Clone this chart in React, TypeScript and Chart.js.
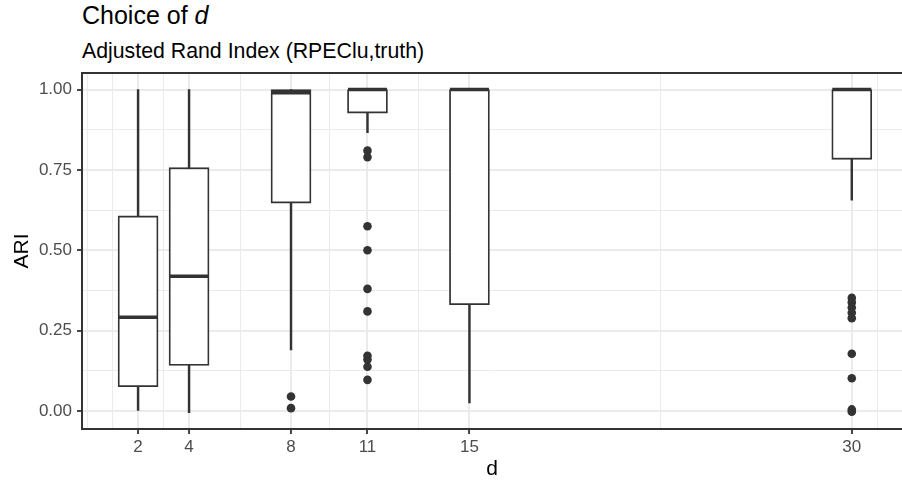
import React, { useEffect, useRef } from 'react';
import { Chart, registerables } from 'chart.js';

Chart.register(...registerables);

// ---- data ----
const categories = [2, 4, 8, 11, 15, 30];
const lowerWhisker = [0.002, -0.005, 0.19, 0.866, 0.025, 0.656];
const q1 = [0.076, 0.142, 0.647, 0.927, 0.331, 0.783];
const medians = [0.292, 0.419, 0.99, 1.0, 1.0, 1.0];
const q3 = [0.607, 0.757, 1.0, 1.0, 1.0, 1.0];
const upperWhisker = [1.0, 1.0, 1.0, 1.0, 1.0, 1.0];
const outlierValues = [
  [],
  [],
  [0.045, 0.009],
  [0.81, 0.79, 0.575, 0.5, 0.38, 0.31, 0.172, 0.16, 0.138, 0.097],
  [],
  [0.352, 0.338, 0.322, 0.306, 0.289, 0.178, 0.102, 0.005, -0.002],
];

// ---- axes ----
const xBreaks = [2, 4, 8, 11, 15, 30];
const xMinorBreaks = [0, 1, 3, 6, 9.5, 13, 22.5, 31];
const yBreaks = [0, 0.25, 0.5, 0.75, 1];
const yLabels = ['0.00', '0.25', '0.50', '0.75', '1.00'];
const yMinorBreaks = [0.125, 0.375, 0.625, 0.875];

const titleText = 'Choice of ';
const titleItalic = 'd';
const subtitleText = 'Adjusted Rand Index (RPEClu,truth)';
const xTitle = 'd';
const yTitle = 'ARI';

const FONT = '"Liberation Sans", Arial, Helvetica, sans-serif';
const INK = '#333333';
const GRID = '#EBEBEB';

const topBorder = {
  id: 'topBorder',
  afterDraw(chart: any) {
    const { ctx, chartArea } = chart;
    ctx.save();
    ctx.strokeStyle = INK;
    ctx.lineWidth = 2;
    ctx.beginPath();
    ctx.moveTo(chartArea.left - 1, chartArea.top);
    ctx.lineTo(chartArea.right, chartArea.top);
    ctx.stroke();
    ctx.restore();
  },
};

export default function App() {
  const ref = useRef<HTMLCanvasElement | null>(null);

  useEffect(() => {
    document.body.style.margin = '0';
    if (!ref.current) return;

    const whiskerData = categories.map((x, i) => ({ x, y: [lowerWhisker[i], upperWhisker[i]] }));
    const boxData = categories.map((x, i) => ({ x, y: [q1[i], q3[i]] }));
    const medianData = categories.map((x, i) => ({ x, y: medians[i] }));
    const outlierData: { x: number; y: number }[] = [];
    categories.forEach((x, i) => outlierValues[i].forEach((y) => outlierData.push({ x, y })));

    const isMajorX = (v: number) => xBreaks.includes(v);
    const isMajorY = (v: number) => yBreaks.some((b) => Math.abs(b - v) < 1e-9);

    const chart = new Chart(ref.current, {
      type: 'bar',
      data: {
        datasets: [
          {
            type: 'scatter',
            data: outlierData,
            pointStyle: 'circle',
            pointRadius: 4.3,
            backgroundColor: INK,
            borderWidth: 0,
            order: 0,
          } as any,
          {
            type: 'scatter',
            data: medianData,
            pointStyle: 'line',
            pointRadius: 19.5,
            borderColor: INK,
            borderWidth: 3.5,
            order: 1,
          } as any,
          {
            type: 'bar',
            data: boxData,
            backgroundColor: '#FFFFFF',
            borderColor: INK,
            borderWidth: 1.8,
            borderSkipped: false,
            barThickness: 40,
            grouped: false,
            order: 2,
          } as any,
          {
            type: 'bar',
            data: whiskerData,
            backgroundColor: INK,
            borderWidth: 0,
            barThickness: 1.8,
            grouped: false,
            order: 3,
          } as any,
        ],
      },
      options: {
        responsive: false,
        animation: false,
        devicePixelRatio: 1,
        events: [],
        layout: { autoPadding: false, padding: { top: 73, left: 0, right: 0, bottom: 0 } },
        plugins: {
          legend: { display: false },
          tooltip: { enabled: false },
          title: { display: false },
        },
        scales: {
          x: {
            type: 'linear',
            min: -0.2,
            max: 31.97,
            offset: false,
            afterBuildTicks: (scale: any) => {
              scale.ticks = [...xBreaks, ...xMinorBreaks].sort((a, b) => a - b).map((v) => ({ value: v }));
            },
            afterFit: (scale: any) => {
              scale.height = 53;
            },
            ticks: {
              autoSkip: false,
              maxRotation: 0,
              padding: 3,
              color: '#4D4D4D',
              font: { family: FONT, size: 17 },
              callback: (v: any) => (isMajorX(Number(v)) ? String(v) : ''),
            },
            grid: {
              offset: false,
              drawTicks: true,
              tickLength: 5,
              color: (ctx: any) => GRID,
              lineWidth: (ctx: any) => (ctx.tick && isMajorX(ctx.tick.value) ? 2 : 1),
              tickColor: (ctx: any) => (ctx.tick && isMajorX(ctx.tick.value) ? INK : 'rgba(0,0,0,0)'),
              tickWidth: 1.8,
            },
            border: { display: true, color: INK, width: 2 },
            title: {
              display: true,
              text: xTitle,
              color: '#000000',
              font: { family: FONT, size: 21, lineHeight: 1 },
              padding: { top: 0, bottom: 2 },
            },
          },
          y: {
            type: 'linear',
            min: -0.0559,
            max: 1.0516,
            afterBuildTicks: (scale: any) => {
              scale.ticks = [...yBreaks, ...yMinorBreaks].sort((a, b) => a - b).map((v) => ({ value: v }));
            },
            afterFit: (scale: any) => {
              scale.width = 82;
            },
            ticks: {
              autoSkip: false,
              padding: 5,
              color: '#4D4D4D',
              font: { family: FONT, size: 17 },
              callback: (v: any) => {
                const idx = yBreaks.findIndex((b) => Math.abs(b - Number(v)) < 1e-9);
                return idx >= 0 ? yLabels[idx] : '';
              },
            },
            grid: {
              drawTicks: true,
              tickLength: 5,
              color: (ctx: any) => GRID,
              lineWidth: (ctx: any) => (ctx.tick && isMajorY(ctx.tick.value) ? 2 : 1),
              tickColor: (ctx: any) => (ctx.tick && isMajorY(ctx.tick.value) ? INK : 'rgba(0,0,0,0)'),
              tickWidth: 1.8,
            },
            border: { display: true, color: INK, width: 2 },
            title: {
              display: true,
              text: yTitle,
              color: '#000000',
              font: { family: FONT, size: 21, lineHeight: 1.2 },
              padding: { top: 10, bottom: 0 },
            },
          },
        },
      } as any,
      plugins: [topBorder],
    });

    return () => chart.destroy();
  }, []);

  return (
    <div style={{ position: 'absolute', left: 0, top: 0, width: 902, height: 482, overflow: 'hidden', background: '#fff' }}>
      <div
        style={{
          position: 'absolute',
          left: 82,
          top: 3,
          fontFamily: FONT,
          fontSize: 25,
          lineHeight: 1,
          color: '#000',
          whiteSpace: 'nowrap',
        }}
      >
        {titleText}
        <i>{titleItalic}</i>
      </div>
      <div
        style={{
          position: 'absolute',
          left: 82,
          top: 41,
          fontFamily: FONT,
          fontSize: 21.3,
          lineHeight: 1,
          color: '#000',
          whiteSpace: 'nowrap',
        }}
      >
        {subtitleText}
      </div>
      <canvas ref={ref} width={902} height={482} style={{ position: 'absolute', left: 0, top: 0 }} />
    </div>
  );
}
